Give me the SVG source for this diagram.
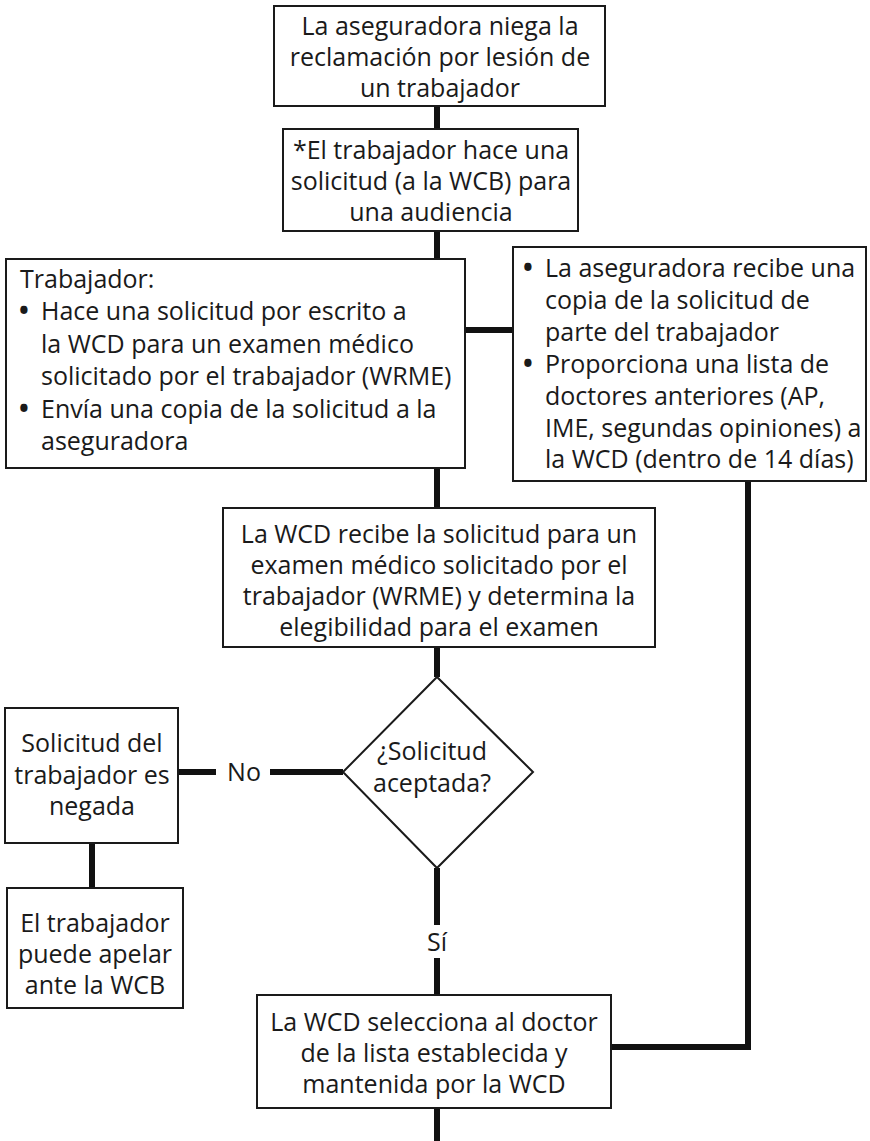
<svg xmlns="http://www.w3.org/2000/svg" width="870" height="1141" viewBox="0 0 870 1141">
<style>
.box{fill:#fff;stroke:#1a1a1a;stroke-width:2}
.t{font-family:"Open Sans","Noto Sans","DejaVu Sans",sans-serif;font-size:25px;fill:#1a1a1a}
.b{font-size:26px;font-weight:700}
.c{text-anchor:middle}
.con{fill:none;stroke:#111;stroke-width:6;stroke-linejoin:miter;stroke-linecap:butt}
</style>
<rect width="870" height="1141" fill="#fff"/>
<g id="connectors">
<line class="con" x1="437" y1="106" x2="437" y2="129"/>
<line class="con" x1="437" y1="231" x2="437" y2="259"/>
<line class="con" x1="465" y1="330" x2="513" y2="330"/>
<line class="con" x1="437" y1="468" x2="437" y2="508"/>
<line class="con" x1="437" y1="647" x2="437" y2="677"/>
<line class="con" x1="178" y1="772" x2="343" y2="772"/>
<line class="con" x1="92" y1="843" x2="92" y2="888"/>
<line class="con" x1="437" y1="868" x2="437" y2="995"/>
<line class="con" x1="437" y1="1108" x2="437" y2="1141"/>
<polyline class="con" points="748,481 748,1047 611,1047"/>
<g id="label-no"><rect x="216" y="756" width="54" height="32" fill="#fff"/><text class="t c" x="244" y="781">No</text></g>
<g id="label-si"><rect x="419" y="925" width="36" height="33" fill="#fff"/><text class="t c" x="437" y="951">Sí</text></g>
</g>
<g id="n1">
<rect class="box" x="274" y="6" width="331" height="100"/>
<text class="t c"><tspan x="440" y="35">La aseguradora niega la</tspan><tspan x="440" y="66">reclamación por lesión de</tspan><tspan x="440" y="97">un trabajador</tspan></text>
</g>
<g id="n2">
<rect class="box" x="283" y="129" width="295" height="102"/>
<text class="t c"><tspan x="431" y="159">*El trabajador hace una</tspan><tspan x="431" y="190">solicitud (a la WCB) para</tspan><tspan x="431" y="221">una audiencia</tspan></text>
</g>
<g id="n3">
<rect class="box" x="6" y="259" width="459" height="209"/>
<text class="t"><tspan x="20" y="288">Trabajador:</tspan><tspan class="b" x="19" y="320">•</tspan><tspan x="41" y="320">Hace una solicitud por escrito a</tspan><tspan x="41" y="353">la WCD para un examen médico</tspan><tspan x="41" y="385">solicitado por el trabajador (WRME)</tspan><tspan class="b" x="19" y="418">•</tspan><tspan x="41" y="418">Envía una copia de la solicitud a la</tspan><tspan x="41" y="450">aseguradora</tspan></text>
</g>
<g id="n4">
<rect class="box" x="513" y="247" width="353" height="234"/>
<text class="t"><tspan class="b" x="523" y="277">•</tspan><tspan x="545" y="277">La aseguradora recibe una</tspan><tspan x="545" y="309">copia de la solicitud de</tspan><tspan x="545" y="341">parte del trabajador</tspan><tspan class="b" x="523" y="373">•</tspan><tspan x="545" y="373">Proporciona una lista de</tspan><tspan x="545" y="405">doctores anteriores (AP,</tspan><tspan x="545" y="437">IME, segundas opiniones) a</tspan><tspan x="545" y="468">la WCD (dentro de 14 días)</tspan></text>
</g>
<g id="n5">
<rect class="box" x="223" y="508" width="432" height="139"/>
<text class="t c"><tspan x="439" y="543">La WCD recibe la solicitud para un</tspan><tspan x="439" y="574">examen médico solicitado por el</tspan><tspan x="439" y="605">trabajador (WRME) y determina la</tspan><tspan x="439" y="636">elegibilidad para el examen</tspan></text>
</g>
<g id="n6">
<polygon class="box" points="437,677 533,772 437,868 343,772"/>
<text class="t c"><tspan x="432" y="760">¿Solicitud</tspan><tspan x="432" y="792">aceptada?</tspan></text>
</g>
<g id="n7">
<rect class="box" x="5" y="708" width="173" height="135"/>
<text class="t c"><tspan x="92" y="752">Solicitud del</tspan><tspan x="92" y="784">trabajador es</tspan><tspan x="92" y="815">negada</tspan></text>
</g>
<g id="n8">
<rect class="box" x="7" y="888" width="176" height="120"/>
<text class="t c"><tspan x="95" y="932">El trabajador</tspan><tspan x="95" y="963">puede apelar</tspan><tspan x="95" y="994">ante la WCB</tspan></text>
</g>
<g id="n9">
<rect class="box" x="257" y="995" width="354" height="113"/>
<text class="t c"><tspan x="434" y="1031">La WCD selecciona al doctor</tspan><tspan x="434" y="1062">de la lista establecida y</tspan><tspan x="434" y="1093">mantenida por la WCD</tspan></text>
</g>
</svg>
